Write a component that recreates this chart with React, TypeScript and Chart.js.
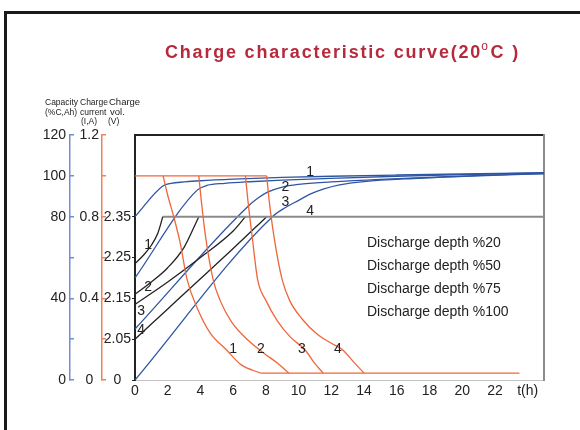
import React, { useEffect, useRef } from "react";
import { Chart, registerables } from "chart.js";

Chart.register(...registerables);

// ---------- axis ticks ----------
const xTickValues = [0, 2, 4, 6, 8, 10, 12, 14, 16, 18, 20, 22, 24];
const xTickLabels = ["0", "2", "4", "6", "8", "10", "12", "14", "16", "18", "20", "22", "t(h)"];
const capTickValues = [0, 20, 40, 60, 80, 100, 120];
const capTickLabels = ["0", "", "40", "", "80", "100", "120"];
const curTickValues = [0, 0.2, 0.4, 0.6, 0.8, 1.0, 1.2];
const curTickLabels = ["0", "", "0.4", "", "0.8", "", "1.2"];
const voltTickValues = [1.95, 2.05, 2.15, 2.25, 2.35];
const voltTickLabels = ["0", "2.05", "2.15", "2.25", "2.35"];

// ---------- charge current (I, A) ----------
const curTopT = [0, 8.05];
const curTopI = [1.0, 1.0];
const curBottomT = [7.67, 23.5];
const curBottomI = [0.034, 0.034];
const cur1T = [1.72, 1.96, 2.4, 2.76, 3.19, 3.8, 4.6, 5.6, 6.5, 7.67];
const cur1I = [1.0, 0.917, 0.79, 0.672, 0.49, 0.353, 0.23, 0.147, 0.074, 0.034];
const cur2T = [3.9, 4.05, 4.3, 4.78, 5.2, 5.9, 6.9, 7.9, 8.7, 9.4];
const cur2I = [1.0, 0.88, 0.71, 0.49, 0.39, 0.285, 0.196, 0.13, 0.083, 0.034];
const cur3T = [6.75, 6.9, 7.15, 7.5, 8.0, 8.7, 9.5, 10.4, 11.0, 11.5];
const cur3I = [1.0, 0.88, 0.71, 0.49, 0.39, 0.29, 0.21, 0.147, 0.08, 0.034];
const cur4T = [8.05, 8.2, 8.5, 9.0, 9.45, 10.2, 11.2, 12.0, 12.7, 13.4, 14.0];
const cur4I = [1.0, 0.88, 0.7, 0.49, 0.39, 0.3, 0.22, 0.18, 0.147, 0.085, 0.034];

// ---------- capacity (%C, Ah) ----------
const cap1T = [0, 1.7, 2.2, 3, 4, 6, 9, 12, 16, 20, 25];
const cap1C = [80, 95, 96.3, 97, 97.6, 98.4, 99.2, 99.8, 100.4, 100.9, 101.5];
const cap2T = [0, 3.8, 4.4, 5.5, 7, 9, 12, 16, 20, 25];
const cap2C = [50, 93, 95.3, 96.3, 97.1, 97.9, 98.8, 99.8, 100.6, 101.4];
const cap3T = [0, 6.9, 7.5, 8.1, 9, 10, 12, 15, 19, 25];
const cap3C = [25, 85, 89, 92, 94.5, 95.8, 97, 98.3, 99.6, 101.2];
const cap4T = [0, 8.4, 9.2, 10, 10.7, 11.5, 12.5, 14, 17, 21, 25];
const cap4C = [0, 80, 84.5, 88, 91, 93.5, 95.6, 97.2, 98.7, 100, 101];

// ---------- charge voltage (V) ----------
const volt1T = [0, 0.5, 1.0, 1.4, 1.7];
const volt1V = [2.235, 2.255, 2.28, 2.31, 2.35];
const volt2T = [0, 1, 2, 3, 3.9];
const volt2V = [2.16, 2.19, 2.225, 2.275, 2.35];
const volt3T = [0, 2, 4, 6, 6.75];
const volt3V = [2.135, 2.19, 2.25, 2.315, 2.35];
const volt4T = [0, 2, 4, 6, 8.05];
const volt4V = [2.05, 2.124, 2.198, 2.272, 2.35];
const voltFlatT = [1.7, 25];
const voltFlatV = [2.35, 2.35];

// ---------- curve number labels (data coords) ----------
const curveNames = ["1", "2", "3", "4"];
const curLabelT = [6.0, 7.7, 10.2, 12.4];
const curLabelI = [0.152, 0.152, 0.152, 0.152];
const capLabelT = [10.7, 9.2, 9.2, 10.7];
const capLabelC = [101.8, 94.5, 87.2, 82.6];
const voltLabelT = [0.8, 0.8, 0.37, 0.37];
const voltLabelV = [2.281, 2.178, 2.119, 2.072];

const legendTexts = [
  "Discharge depth %20",
  "Discharge depth %50",
  "Discharge depth %75",
  "Discharge depth %100",
];
const titleMain = "Charge characteristic curve(20";
const titleSup = "o";
const titleEnd = "C )";
const headerRow1 = ["Capacity", "Charge", "Charge"];
const headerRow2 = ["(%C,Ah)", "current", "vol."];
const headerRow3 = ["(I,A)", "(V)"];

const FONT = '"Liberation Sans", Arial, Helvetica, sans-serif';
const ORANGE = "#f0663a";
const ORANGE_AXIS = "#f2805c";
const BLUE = "#2f56a3";
const BLUE_AXIS = "#6f8fd0";
const DARK = "#222222";

const pts = (t: number[], v: number[]) => t.map((x, i) => ({ x, y: v[i] }));

const line = (data: { x: number; y: number }[], color: string, yAxisID: string, width = 1.3) => ({
  data,
  borderColor: color,
  borderWidth: width,
  pointRadius: 0,
  fill: false,
  yAxisID,
  xAxisID: "x",
  cubicInterpolationMode: "monotone" as const,
});

const decorPlugin = {
  id: "decor",
  afterDraw(chart: any) {
    const ctx = chart.ctx as CanvasRenderingContext2D;
    const ca = chart.chartArea;
    const sx = chart.scales.x;
    const sy = chart.scales.y;
    const sI = chart.scales.yI;
    const sV = chart.scales.yV;
    ctx.save();

    // frame
    ctx.fillStyle = "#1d1a1a";
    ctx.fillRect(4, 11, 576, 3);
    ctx.fillRect(4, 11, 3, 419);

    // title
    ctx.fillStyle = "#b62a3c";
    ctx.textBaseline = "alphabetic";
    ctx.textAlign = "left";
    (ctx as any).letterSpacing = "1.8px";
    ctx.font = `bold 18px ${FONT}`;
    const w1 = ctx.measureText(titleMain).width;
    const w3 = ctx.measureText(titleEnd).width;
    ctx.font = `12px ${FONT}`;
    const w2 = ctx.measureText(titleSup).width;
    const cx = (ca.left + ca.right) / 2 + 3;
    const x0 = cx - (w1 + w2 + w3) / 2;
    const base = 58;
    ctx.font = `bold 18px ${FONT}`;
    ctx.fillText(titleMain, x0, base);
    ctx.font = `12px ${FONT}`;
    ctx.fillText(titleSup, x0 + w1 - 1, base - 8);
    ctx.font = `bold 18px ${FONT}`;
    ctx.fillText(titleEnd, x0 + w1 + w2, base);
    (ctx as any).letterSpacing = "0px";

    // axis headers
    ctx.fillStyle = DARK;
    ctx.textBaseline = "middle";
    ctx.font = `8.5px ${FONT}`;
    ctx.fillText(headerRow1[0], 45, 103);
    ctx.fillText(headerRow1[1], 80, 103);
    ctx.font = `9.5px ${FONT}`;
    ctx.fillText(headerRow1[2], 109, 102);
    ctx.font = `8.5px ${FONT}`;
    ctx.fillText(headerRow2[0], 45, 113);
    ctx.fillText(headerRow2[1], 80, 113);
    ctx.font = `9.5px ${FONT}`;
    ctx.fillText(headerRow2[2], 110, 112);
    ctx.font = `8.5px ${FONT}`;
    ctx.fillText(headerRow3[0], 81, 122);
    ctx.fillText(headerRow3[1], 108, 122);

    // legend texts
    ctx.font = `14px ${FONT}`;
    legendTexts.forEach((s, i) => {
      ctx.fillText(s, ca.left + 232, ca.top + 108 + i * 23);
    });

    // curve numbers
    ctx.textAlign = "center";
    ctx.font = `14px ${FONT}`;
    curveNames.forEach((n, i) => {
      ctx.fillText(n, sx.getPixelForValue(curLabelT[i]), sI.getPixelForValue(curLabelI[i]));
      ctx.fillText(n, sx.getPixelForValue(capLabelT[i]), sy.getPixelForValue(capLabelC[i]));
      ctx.fillText(n, sx.getPixelForValue(voltLabelT[i]), sV.getPixelForValue(voltLabelV[i]));
    });
    ctx.restore();
  },
};

const tickFont = { family: FONT, size: 14 };

export default function App() {
  const ref = useRef<HTMLCanvasElement>(null);

  useEffect(() => {
    if (!ref.current) return;
    const chart = new Chart(ref.current, {
      type: "line",
      data: {
        datasets: [
          line(pts(curTopT, curTopI), ORANGE, "yI"),
          line(pts(curBottomT, curBottomI), ORANGE, "yI"),
          line(pts(cur1T, cur1I), ORANGE, "yI"),
          line(pts(cur2T, cur2I), ORANGE, "yI"),
          line(pts(cur3T, cur3I), ORANGE, "yI"),
          line(pts(cur4T, cur4I), ORANGE, "yI"),
          line(pts(voltFlatT, voltFlatV), "#8a8a8a", "yV", 2),
          line(pts(volt1T, volt1V), DARK, "yV"),
          line(pts(volt2T, volt2V), DARK, "yV"),
          line(pts(volt3T, volt3V), DARK, "yV"),
          line(pts(volt4T, volt4V), DARK, "yV"),
          line(pts(cap1T, cap1C), BLUE, "y"),
          line(pts(cap2T, cap2C), BLUE, "y"),
          line(pts(cap3T, cap3C), BLUE, "y"),
          line(pts(cap4T, cap4C), BLUE, "y"),
        ] as any,
      },
      options: {
        responsive: false,
        animation: false,
        devicePixelRatio: 1,
        layout: { padding: { left: 0, right: 36, top: 135, bottom: 28 } },
        plugins: { legend: { display: false }, tooltip: { enabled: false }, title: { display: false } },
        scales: {
          x: {
            type: "linear",
            position: "bottom",
            min: 0,
            max: 25,
            afterBuildTicks: (s: any) => {
              s.ticks = xTickValues.map((v) => ({ value: v }));
            },
            afterFit: (s: any) => {
              s.height = 22;
            },
            ticks: {
              callback: (_v: any, i: number) => xTickLabels[i],
              autoSkip: false,
              maxRotation: 0,
              padding: 3,
              color: DARK,
              font: tickFont,
            },
            grid: { display: false, drawTicks: false },
            border: { display: true, color: "#c4c4c4", width: 1 },
          },
          xTop: {
            type: "linear",
            position: "top",
            min: 0,
            max: 25,
            afterFit: (s: any) => {
              s.height = 0;
            },
            ticks: { display: false },
            grid: { display: false, drawTicks: false },
            border: { display: true, color: DARK, width: 2 },
          },
          y: {
            type: "linear",
            position: "left",
            weight: 3,
            min: 0,
            max: 120,
            afterBuildTicks: (s: any) => {
              s.ticks = capTickValues.map((v) => ({ value: v }));
            },
            afterFit: (s: any) => {
              s.width = 70;
            },
            ticks: {
              callback: (_v: any, i: number) => capTickLabels[i],
              autoSkip: false,
              padding: 8,
              color: DARK,
              font: tickFont,
            },
            grid: { drawOnChartArea: false, drawTicks: true, tickLength: -4, color: BLUE_AXIS, lineWidth: 1.5 },
            border: { display: true, color: BLUE_AXIS, width: 1.5 },
          },
          yI: {
            type: "linear",
            position: "left",
            weight: 2,
            min: 0,
            max: 1.2,
            afterBuildTicks: (s: any) => {
              s.ticks = curTickValues.map((v) => ({ value: v }));
            },
            afterFit: (s: any) => {
              s.width = 32;
            },
            ticks: {
              callback: (_v: any, i: number) => curTickLabels[i],
              autoSkip: false,
              crossAlign: "center",
              padding: 7,
              color: DARK,
              font: tickFont,
            },
            grid: { drawOnChartArea: false, drawTicks: true, tickLength: -4, color: ORANGE_AXIS, lineWidth: 1.5 },
            border: { display: true, color: ORANGE_AXIS, width: 1.5 },
          },
          yV: {
            type: "linear",
            position: "left",
            weight: 1,
            min: 1.95,
            max: 2.55,
            afterBuildTicks: (s: any) => {
              s.ticks = voltTickValues.map((v) => ({ value: v }));
            },
            afterFit: (s: any) => {
              s.width = 33;
            },
            ticks: {
              callback: (_v: any, i: number) => voltTickLabels[i],
              autoSkip: false,
              crossAlign: "center",
              padding: 1,
              color: DARK,
              font: tickFont,
            },
            grid: { drawOnChartArea: false, drawTicks: true, tickLength: 3, color: DARK, lineWidth: 1 },
            border: { display: true, color: DARK, width: 2 },
          },
          yR: {
            type: "linear",
            position: "right",
            min: 0,
            max: 120,
            afterFit: (s: any) => {
              s.width = 0;
            },
            ticks: { display: false },
            grid: { display: false, drawTicks: false },
            border: { display: true, color: "#8c8c8c", width: 2 },
          },
        },
      } as any,
      plugins: [decorPlugin],
    });
    return () => chart.destroy();
  }, []);

  return (
    <div style={{ position: "fixed", left: 0, top: 0, width: 580, height: 430, background: "#ffffff" }}>
      <canvas ref={ref} width={580} height={430} style={{ display: "block", width: 580, height: 430 }} />
    </div>
  );
}
